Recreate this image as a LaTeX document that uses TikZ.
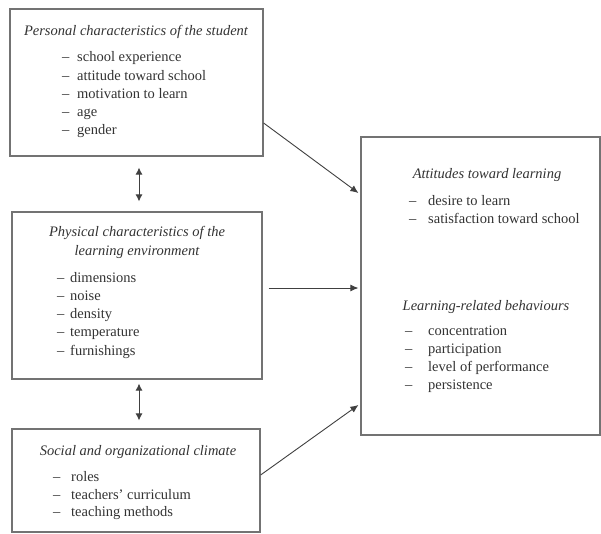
\documentclass[tikz,border=0pt]{standalone}
\usepackage{fontspec}
\setmainfont{Liberation Serif}
\usetikzlibrary{arrows.meta,calc}
\begin{document}
\begin{tikzpicture}[x=1pt,y=-1pt,
 box/.style={draw=black!55, line width=1.2pt, rectangle, inner sep=0pt},
 ttl/.style={font=\fontsize{14.5}{19}\selectfont\itshape, text=black!80, inner sep=0pt, align=center},
 itm/.style={font=\fontsize{14.5}{18}\selectfont, text=black!80, inner sep=0pt, anchor=west, text height=10pt, text depth=3pt},
 conn/.style={draw=black!75, line width=0.9pt, -{Latex[length=8pt,width=7pt]}},
 dbl/.style={draw=black!75, line width=0.9pt, {Latex[length=7pt,width=7pt]}-{Latex[length=7pt,width=7pt]}}]
\useasboundingbox (0,0) rectangle (601,533);
\fill[white] (0,0) rectangle (601,533);

% boxes
\node[box, minimum width=253pt, minimum height=147pt] (b1) at (136.5,82.5) {};
\node[box, minimum width=250pt, minimum height=167pt] (b2) at (137,295.5) {};
\node[box, minimum width=248pt, minimum height=103pt] (b3) at (136,480.5) {};
\node[box, minimum width=239pt, minimum height=298pt] (R) at (480.5,286) {};

% box 1
\node[ttl] (t1) at (136,32) {Personal characteristics of the student};
\foreach \y/\t [count=\i] in {58/school experience,77/attitude toward school,95/motivation to learn,113/age,131/gender}{
  \node[itm] (d1\i) at (62,\y) {–};
  \node[itm] (i1\i) at (77,\y) {\t};
}

% box 2
\node[ttl] (t2) at (137,242.5) {Physical characteristics of the\\learning environment};
\foreach \y/\t [count=\i] in {279/dimensions,297/noise,315/density,333/temperature,352/furnishings}{
  \node[itm] (d2\i) at (57,\y) {–};
  \node[itm] (i2\i) at (70,\y) {\t};
}

% box 3
\node[ttl] (t3) at (138,452) {Social and organizational climate};
\foreach \y/\t [count=\i] in {478/roles,496/teachers' curriculum,513/teaching methods}{
  \node[itm] (d3\i) at (53,\y) {–};
  \node[itm] (i3\i) at (71,\y) {\t};
}

% right box
\node[ttl] (t4) at (487,175) {Attitudes toward learning};
\foreach \y/\t [count=\i] in {202/desire to learn,220/satisfaction toward school}{
  \node[itm] (d4\i) at (409,\y) {–};
  \node[itm] (i4\i) at (428,\y) {\t};
}
\node[ttl] (t5) at (486,307) {Learning-related behaviours};
\foreach \y/\t [count=\i] in {332/concentration,350/participation,368/level of performance,386/persistence}{
  \node[itm] (d5\i) at (405,\y) {–};
  \node[itm] (i5\i) at (428,\y) {\t};
}

% connectors
\draw[conn] ($(b1.east)+(0,40.5)$) -- ($(R.west)+(-2,-93)$);
\draw[conn] ($(b2.east)+(6,-7.5)$) -- ($(R.west)+(-2,2)$);
\draw[conn] ($(b3.east)+(0,-5.5)$) -- ($(R.west)+(-2,119)$);
\draw[dbl] ($(b1.south)+(2.5,11)$) -- ($(b2.north)+(2,-10)$);
\draw[dbl] ($(b2.south)+(2,4)$) -- ($(b3.north)+(3,-8)$);
\end{tikzpicture}
\end{document}
